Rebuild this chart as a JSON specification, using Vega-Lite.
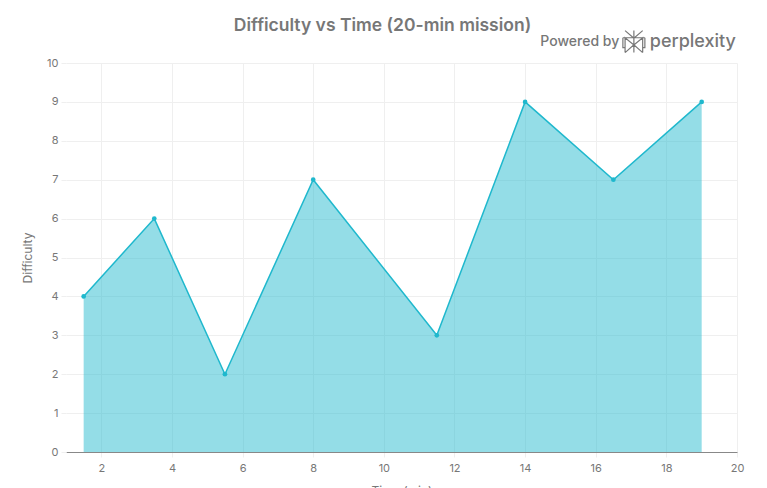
{"$schema":"https://vega.github.io/schema/vega-lite/v6.json","width":671,"height":389,"autosize":"none","padding":{"left":66,"top":63,"right":30,"bottom":36},"background":"white","config":{"font":"Inter","view":{"stroke":null}},"title":{"text":"Difficulty vs Time (20-min mission)","anchor":"middle","frame":"group","offset":-6,"dx":-19,"fontSize":17.5,"fontWeight":600,"color":"#777777","font":"Inter"},"datasets":{"series":[{"time":1.5,"difficulty":4},{"time":3.5,"difficulty":6},{"time":5.5,"difficulty":2},{"time":8,"difficulty":7},{"time":11.5,"difficulty":3},{"time":14,"difficulty":9},{"time":16.5,"difficulty":7},{"time":19,"difficulty":9}],"brand":[{"time":14.43,"difficulty":10.55,"label":"Powered by","size":14},{"time":17.53,"difficulty":10.55,"label":"perplexity","size":18}]},"encoding":{"x":{"field":"time","type":"quantitative","scale":{"domain":[1,20],"nice":false,"zero":false},"axis":{"title":"Time (min)","titleColor":"#777777","titleFontSize":12,"titleFontWeight":400,"titlePadding":12,"labelColor":"#777777","labelFontSize":11,"labelPadding":5,"labelFlush":false,"values":[2,4,6,8,10,12,14,16,18,20],"grid":true,"gridColor":"#efefef","tickColor":"#efefef","tickSize":5,"domainColor":"#888888"}},"y":{"field":"difficulty","type":"quantitative","scale":{"domain":[0,10],"nice":false},"axis":{"title":"Difficulty","titleColor":"#777777","titleFontSize":12,"titleFontWeight":400,"titlePadding":12,"labelColor":"#777777","labelFontSize":11,"labelPadding":3,"values":[0,1,2,3,4,5,6,7,8,9,10],"grid":true,"gridColor":"#efefef","tickColor":"#efefef","tickSize":5,"domain":false}}},"layer":[{"data":{"name":"series"},"mark":{"type":"area","color":"#1FB8CD","opacity":0.48}},{"data":{"name":"series"},"mark":{"type":"line","color":"#1FB8CD","strokeWidth":1.5,"point":{"filled":true,"color":"#1FB8CD","size":22,"opacity":1}}},{"data":{"name":"brand"},"mark":{"type":"text","align":"left","baseline":"middle","color":"#777777","fontWeight":500,"clip":false},"encoding":{"text":{"field":"label"},"size":{"field":"size","type":"quantitative","scale":null}}},{"data":{"values":[{"time":17.08,"difficulty":10.55}]},"mark":{"type":"point","shape":"M-0.8,-1 L0,-0.3 L0.8,-1 M0,-1 L0,1 M-0.8,1 L-0.8,-0.35 L0,0.3 L0.8,-0.35 L0.8,1 M-0.8,1 L0,0.3 L0.8,1 M-1,-0.35 L1,-0.35 M-1,-0.35 L-1,0.55 L-0.8,0.55 M1,-0.35 L1,0.55 L0.8,0.55","size":484,"filled":false,"color":"#777777","strokeWidth":1.2,"opacity":1,"clip":false}}]}
